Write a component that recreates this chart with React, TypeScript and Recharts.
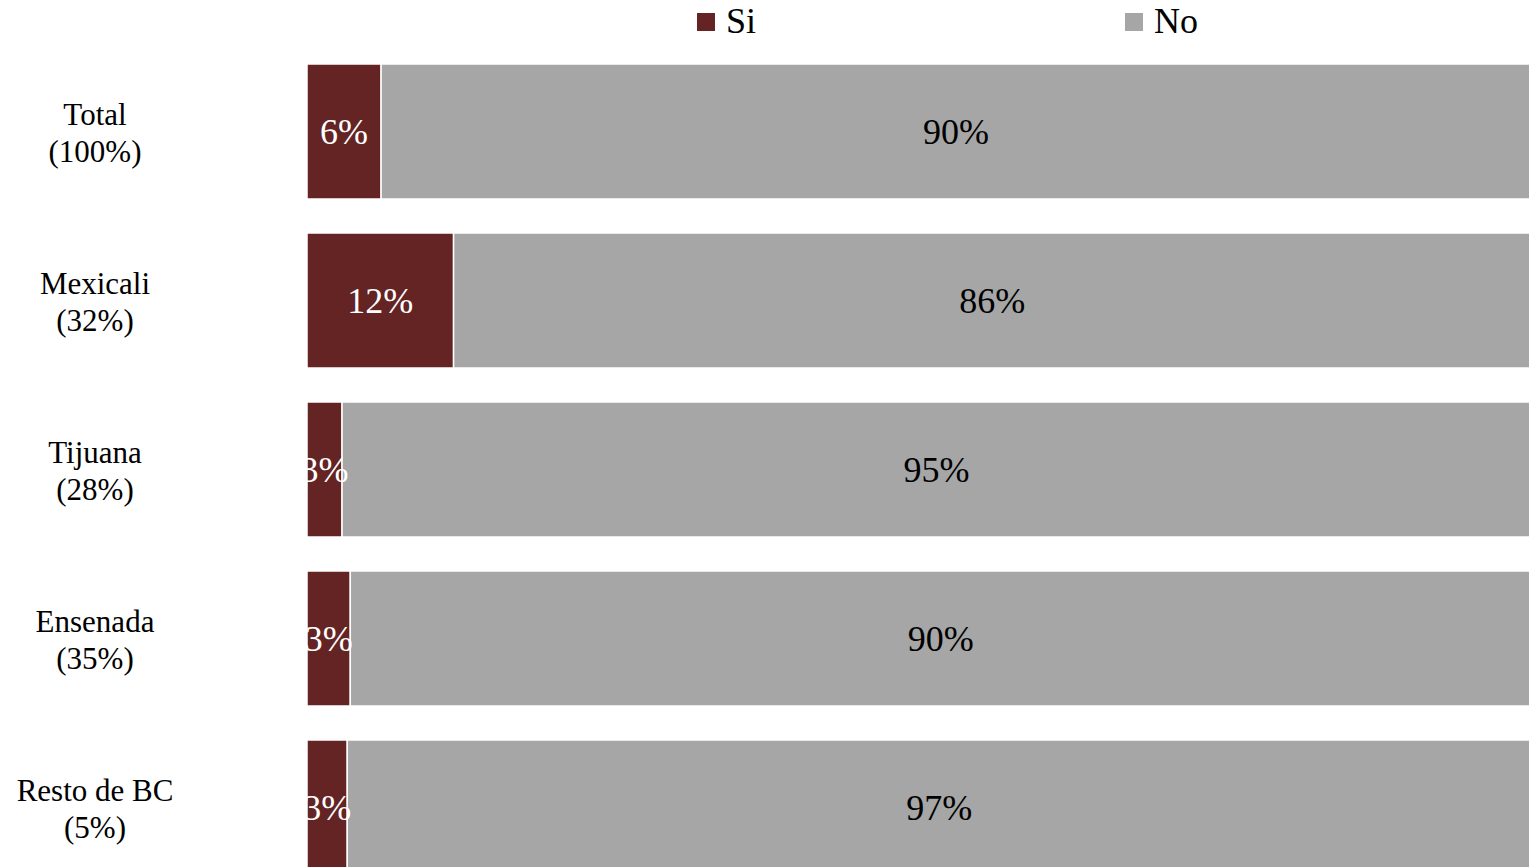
import React from 'react';
import { BarChart, Bar, XAxis, YAxis, Legend, LabelList } from 'recharts';

const categories = ['Total', 'Mexicali', 'Tijuana', 'Ensenada', 'Resto de BC'];
const shares = ['(100%)', '(32%)', '(28%)', '(35%)', '(5%)'];
const siValues = [5.8, 11.7, 2.8, 3.3, 3.3];
const noValues = [90, 86, 95, 90, 97];
const seriesNames = ['Si', 'No'];
const seriesColors = ['#632423', '#A6A6A6'];

const data = categories.map((c, i) => ({
  name: c,
  share: shares[i],
  Si: siValues[i],
  No: noValues[i],
}));

const FONT = '"Liberation Serif", "Times New Roman", serif';

const CategoryTick = (props: any) => {
  const { y, payload } = props;
  const idx = categories.indexOf(payload.value);
  return (
    <text x={95} y={y} textAnchor="middle" fontFamily={FONT} fontSize={31} fill="#000">
      <tspan x={95} y={y - 7}>{payload.value}</tspan>
      <tspan x={95} y={y + 30}>{shares[idx]}</tspan>
    </text>
  );
};

const LegendContent = () => {
  const lefts = [697, 1125];
  return (
    <div style={{ position: 'relative', width: 1529, height: 0 }}>
      {seriesNames.map((n, i) => (
        <div key={n}>
          <div
            style={{
              position: 'absolute',
              left: lefts[i],
              top: 13,
              width: 18,
              height: 18,
              background: seriesColors[i],
            }}
          />
          <div
            style={{
              position: 'absolute',
              left: lefts[i] + 29,
              top: 3,
              fontFamily: FONT,
              fontSize: 36,
              lineHeight: '36px',
              color: '#000',
              whiteSpace: 'nowrap',
            }}
          >
            {n}
          </div>
        </div>
      ))}
    </div>
  );
};

const fmt = (v: any) => `${Math.round(Number(v))}%`;

export default function App() {
  return (
    <div
      style={{
        position: 'absolute',
        left: 0,
        top: 0,
        width: 1529,
        height: 867,
        overflow: 'hidden',
        background: '#fff',
      }}
    >
      <BarChart
        width={1545}
        height={900}
        data={data}
        layout="vertical"
        stackOffset="expand"
        margin={{ top: 47, right: 14, bottom: 8, left: 0 }}
      >
        <XAxis type="number" domain={[0, 1]} hide />
        <YAxis
          type="category"
          dataKey="name"
          width={307}
          axisLine={false}
          tickLine={false}
          tick={<CategoryTick />}
          interval={0}
        />
        <Legend
          verticalAlign="top"
          content={<LegendContent />}
          wrapperStyle={{ top: 0, left: 0, width: 1529, height: 0, overflow: 'visible' }}
        />
        <Bar
          dataKey="Si"
          name="Si"
          stackId="a"
          fill={seriesColors[0]}
          stroke="#fff"
          strokeWidth={1.5}
          barSize={135}
          isAnimationActive={false}
        >
          <LabelList
            dataKey="Si"
            position="center"
            formatter={fmt}
            fill="#fff"
            fontFamily={FONT}
            fontSize={36}
          />
        </Bar>
        <Bar
          dataKey="No"
          name="No"
          stackId="a"
          fill={seriesColors[1]}
          stroke="#fff"
          strokeWidth={1.5}
          barSize={135}
          isAnimationActive={false}
        >
          <LabelList
            dataKey="No"
            position="center"
            formatter={fmt}
            fill="#000"
            fontFamily={FONT}
            fontSize={36}
          />
        </Bar>
      </BarChart>
    </div>
  );
}
